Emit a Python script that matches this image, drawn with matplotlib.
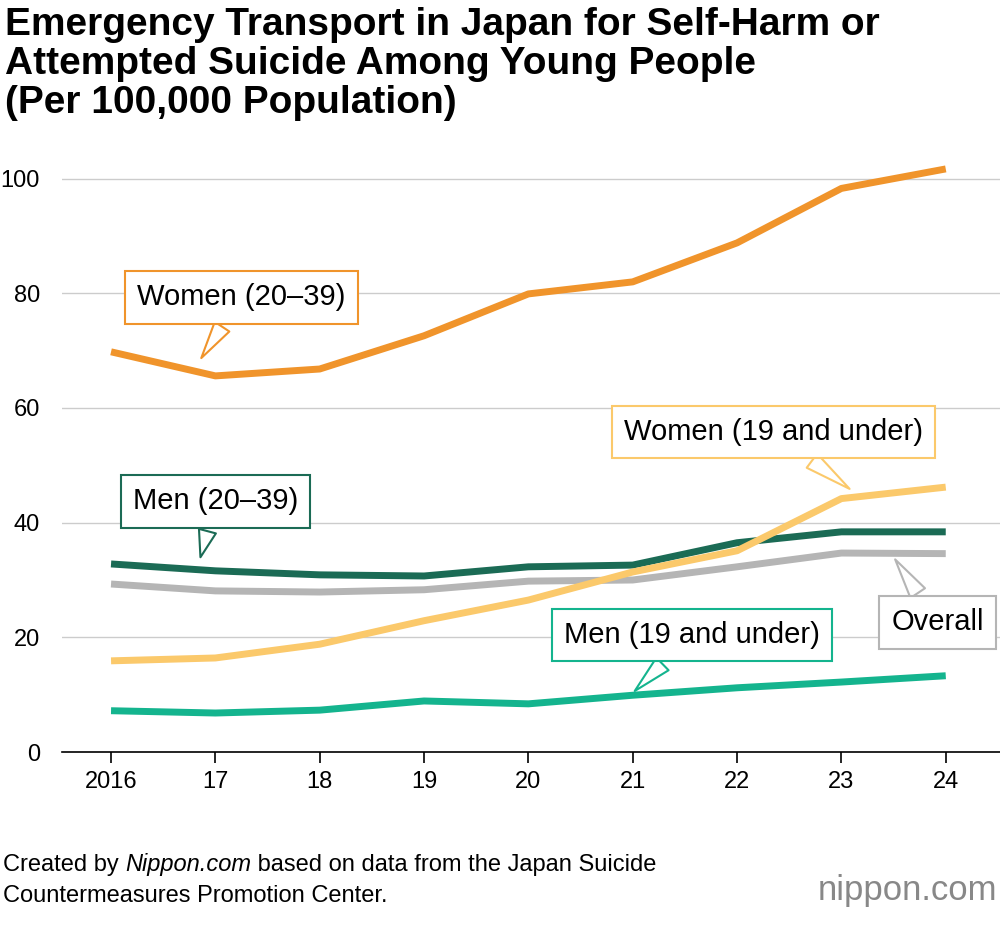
import matplotlib
matplotlib.use("Agg")
import matplotlib.pyplot as plt

plt.rcParams['font.family'] = ['Liberation Sans', 'DejaVu Sans']

years = [2016, 2017, 2018, 2019, 2020, 2021, 2022, 2023, 2024]
year_labels = ["2016", "17", "18", "19", "20", "21", "22", "23", "24"]
women_20_39 = [69.8, 65.6, 66.8, 72.6, 79.9, 82.0, 88.8, 98.3, 101.7]
women_19u = [15.9, 16.4, 18.8, 22.9, 26.5, 31.4, 35.1, 44.2, 46.2]
men_20_39 = [32.8, 31.6, 30.9, 30.7, 32.3, 32.6, 36.5, 38.4, 38.4]
overall = [29.3, 28.1, 27.9, 28.3, 29.8, 30.0, 32.3, 34.7, 34.6]
men_19u = [7.2, 6.8, 7.3, 8.9, 8.4, 9.9, 11.2, 12.2, 13.3]

fig = plt.figure(figsize=(10, 9.3), dpi=100)
ax = fig.add_axes([0.062, 1 - 752/930, 0.938, (752 - 150)/930])
ax.set_xlim(2015.53, 2024.52)
ax.set_ylim(0, 105)

series = [
    (overall, '#B5B5B5'),
    (men_19u, '#14B48E'),
    (men_20_39, '#1B6B55'),
    (women_19u, '#FBC96B'),
    (women_20_39, '#F0942B'),
]
for vals, c in series:
    ax.plot(years, vals, color=c, lw=5, solid_capstyle='butt', zorder=3)

ax.set_yticks([0, 20, 40, 60, 80, 100])
ax.grid(axis='y', color='#CCCCCC', lw=1)
ax.set_axisbelow(True)
for s in ['top', 'right', 'left']:
    ax.spines[s].set_visible(False)
ax.spines['bottom'].set_color('black')
ax.spines['bottom'].set_linewidth(1.2)
ax.tick_params(axis='y', length=0, labelsize=17, pad=16)
ax.set_xticks(years)
ax.set_xticklabels(year_labels)
ax.tick_params(axis='x', length=8, width=1.2, labelsize=17, pad=6, direction='out')

def callout(text, xy, xytext, ec):
    ax.annotate(text, xy=xy, xytext=xytext, fontsize=21, ha='center', va='center',
                bbox=dict(boxstyle='square,pad=0.42', fc='white', ec=ec, lw=1.5),
                arrowprops=dict(arrowstyle='wedge,tail_width=0.6', fc='white', ec=ec, lw=1.5),
                zorder=5)

callout("Women (20–39)", (2016.85, 68.3), (2017.25, 79.3), '#F0942B')
callout("Women (19 and under)", (2023.1, 45.6), (2022.35, 55.8), '#FBC96B')
callout("Men (20–39)", (2016.85, 33.5), (2017.0, 43.7), '#1B6B55')
callout("Overall", (2023.5, 34.0), (2023.92, 22.6), '#B5B5B5')
callout("Men (19 and under)", (2021.0, 10.3), (2021.57, 20.4), '#14B48E')

fig.text(0.005, 0.992, "Emergency Transport in Japan for Self-Harm or\nAttempted Suicide Among Young People\n(Per 100,000 Population)",
         fontsize=28, fontweight='bold', va='top', ha='left', linespacing=1.1)

fig.canvas.draw()
r = fig.canvas.get_renderer()
fs = 17
y1 = 0.058
x = 0.003
for s, st in [("Created by ", 'normal'), ("Nippon.com", 'italic'), (" based on data from the Japan Suicide", 'normal')]:
    t = fig.text(x, y1, s, fontsize=fs, fontstyle=st, va='bottom', ha='left')
    bb = t.get_window_extent(renderer=r)
    x += bb.width / fig.bbox.width
fig.text(0.003, 0.025, "Countermeasures Promotion Center.", fontsize=fs, va='bottom', ha='left')
fig.text(0.997, 0.025, "nippon.com", fontsize=25, color='#888888', va='bottom', ha='right')

fig.savefig("out.png", dpi=100)
